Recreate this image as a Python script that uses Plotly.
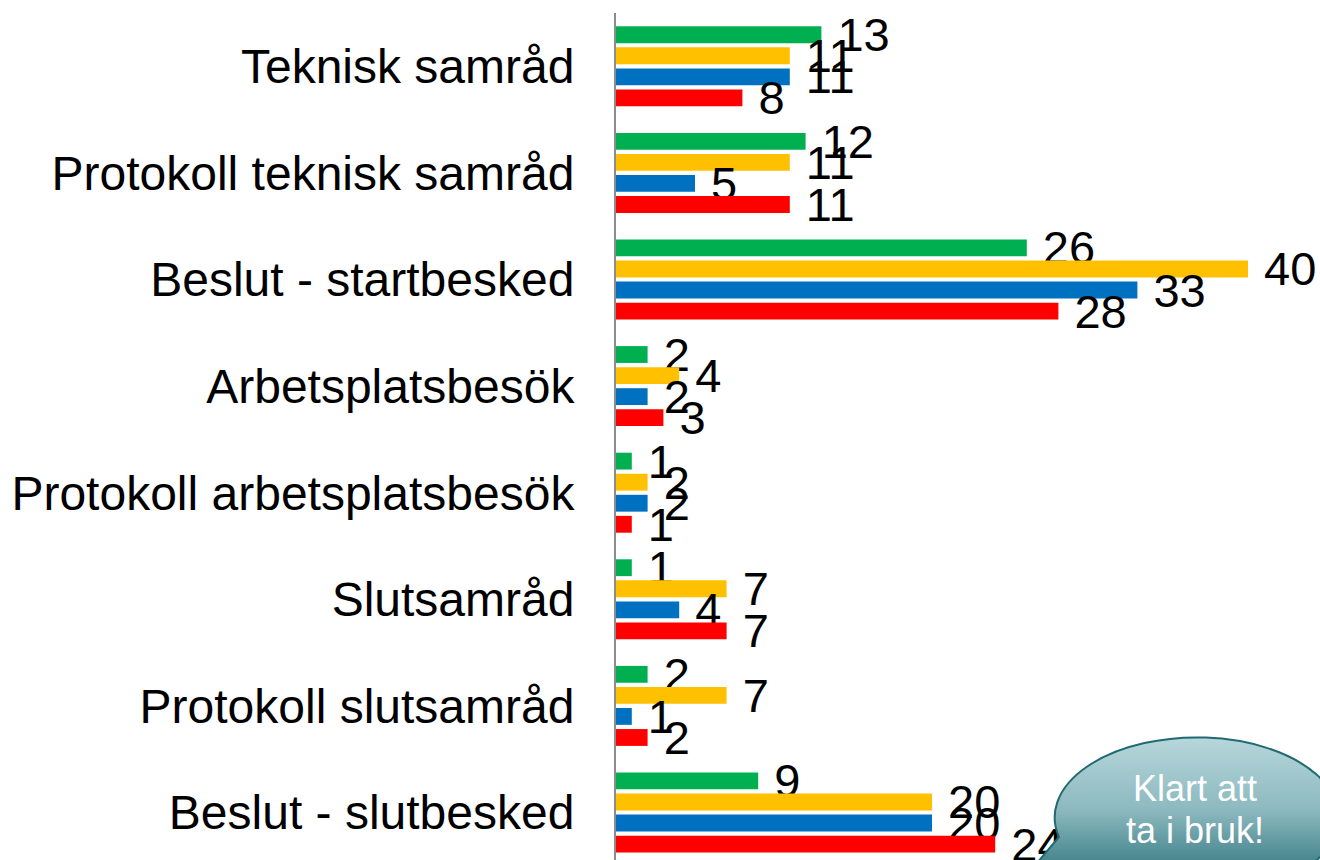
import base64
import plotly.graph_objects as go

categories = [
    "Teknisk samråd",
    "Protokoll teknisk samråd",
    "Beslut - startbesked",
    "Arbetsplatsbesök",
    "Protokoll arbetsplatsbesök",
    "Slutsamråd",
    "Protokoll slutsamråd",
    "Beslut - slutbesked",
]
series_green = [13, 12, 26, 2, 1, 1, 2, 9]
series_yellow = [11, 11, 40, 4, 2, 7, 7, 20]
series_blue = [11, 5, 33, 2, 2, 4, 1, 20]
series_red = [8, 11, 28, 3, 1, 7, 2, 24]

series = [
    ("Serie 1", series_green, "#00B050"),
    ("Serie 2", series_yellow, "#FFC000"),
    ("Serie 3", series_blue, "#0070C0"),
    ("Serie 4", series_red, "#FF0000"),
]

FONT = "Arial, 'Liberation Sans', sans-serif"

W, H = 1320, 860
ML, MT = 616, 13
PW, PH = W - ML, H - MT

fig = go.Figure()
for name, vals, col in series:
    fig.add_trace(go.Bar(
        name=name,
        y=categories,
        x=vals,
        orientation="h",
        marker=dict(color=col, line=dict(width=0)),
        text=vals,
        texttemplate=" %{x}",
        textposition="outside",
        constraintext="none",
        cliponaxis=False,
        textfont=dict(family=FONT, size=47, color="black"),
    ))

# speech bubble graphic (decoration)
svg = """<svg xmlns='http://www.w3.org/2000/svg' width='320' height='150' viewBox='0 0 320 150'>
<defs><linearGradient id='g' x1='0' y1='8' x2='0' y2='168' gradientUnits='userSpaceOnUse'>
<stop offset='0' stop-color='#b6d6db'/>
<stop offset='0.45' stop-color='#8cb9bf'/>
<stop offset='0.8' stop-color='#41818a'/>
<stop offset='1' stop-color='#2e6d76'/>
</linearGradient></defs>
<path d='M 39 107 L 6 146 L 86 149 A 142 80 0 1 0 39 107 Z' fill='url(#g)' stroke='#216a72' stroke-width='2'/>
</svg>"""
src = "data:image/svg+xml;base64," + base64.b64encode(svg.encode()).decode()


def px_x(x):
    return (x - ML) / PW


def px_y(y):
    return 1 - (y - MT) / PH


fig.add_layout_image(dict(
    source=src, xref="paper", yref="paper",
    x=px_x(1020), y=px_y(730), sizex=320 / PW, sizey=150 / PH,
    xanchor="left", yanchor="top", sizing="stretch", layer="above",
))

for txt, yy in [("Klart att", 788), ("ta i bruk!", 830)]:
    fig.add_annotation(
        text=txt, xref="paper", yref="paper",
        x=px_x(1195), y=px_y(yy), xanchor="center", yanchor="middle",
        showarrow=False, font=dict(family=FONT, size=36, color="white"),
    )

fig.update_layout(
    width=W, height=H,
    margin=dict(l=ML, r=0, t=MT, b=0, pad=0),
    barmode="group",
    bargap=0.21,
    bargroupgap=0.2,
    showlegend=False,
    plot_bgcolor="white",
    paper_bgcolor="white",
    font=dict(family=FONT, color="black"),
)
fig.update_xaxes(
    range=[0, PW / 15.8], showgrid=False, zeroline=False,
    showticklabels=False, ticks="", showline=False,
)
fig.update_yaxes(
    type="category", categoryorder="array", categoryarray=categories,
    range=[-0.5 + PH / 106.6, -0.5], showgrid=False, zeroline=False,
    ticks="", showline=True, linecolor="#8c8c8c", linewidth=2,
    tickfont=dict(family=FONT, size=48, color="black"),
    ticklabelstandoff=30,
)

fig.write_html(
    "out.html",
    config={"displayModeBar": False},
    post_script="document.body.style.margin='0';document.body.style.overflow='hidden';",
)
